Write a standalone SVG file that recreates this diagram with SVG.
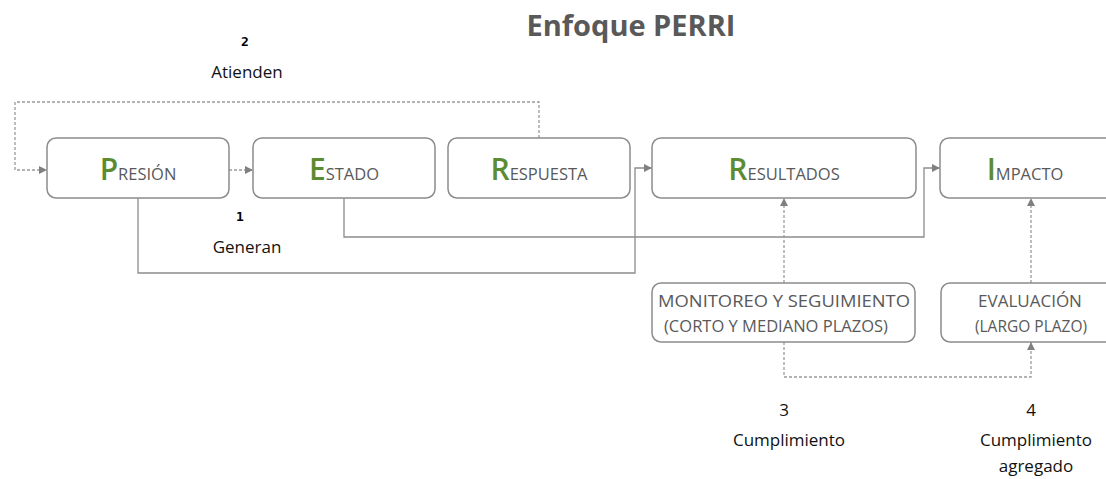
<svg xmlns="http://www.w3.org/2000/svg" width="1106" height="479" viewBox="0 0 1106 479">
<defs>
<marker id="ar" markerWidth="10" markerHeight="10" refX="9" refY="5" orient="auto" markerUnits="userSpaceOnUse">
<path d="M1,1 L9,5 L1,9 Z" fill="#808080"/>
</marker>
<style>
.box{fill:#fff;stroke:#8c8c8c;stroke-width:1.5}
.t{font-family:"Open Sans","Noto Sans",sans-serif;fill:#595959}
.g{fill:#5b8c32;font-size:30px;font-weight:600}
.s{font-size:16.5px}
.lbl{font-family:"Open Sans","Noto Sans",sans-serif;fill:#111;font-size:17px;text-anchor:middle}
.num{font-family:"DejaVu Sans Mono",monospace;font-weight:bold;fill:#000;font-size:13px;text-anchor:middle}
.sol{fill:none;stroke:#8c8c8c;stroke-width:1.3}
.dot{fill:none;stroke:#9a9a9a;stroke-width:1.3;stroke-dasharray:3,2}
.sub{font-family:"Open Sans","Noto Sans",sans-serif;fill:#595959;text-anchor:middle}
</style>
</defs>
<rect width="1106" height="479" fill="#fff"/>
<text x="631" y="36" font-family="'Open Sans','Noto Sans',sans-serif" font-weight="bold" font-size="29" fill="#595959" text-anchor="middle">Enfoque PERRI</text>

<g id="connectors">
<path class="dot" d="M539,138 V102 H15 V170 H47" marker-end="url(#ar)"/>
<path class="dot" d="M229,170 H253" marker-end="url(#ar)"/>
<path class="sol" d="M138,198 V273 H635 V168 H652" marker-end="url(#ar)"/>
<path class="sol" d="M344,198 V237 H924 V168 H940" marker-end="url(#ar)"/>
<path class="dot" d="M784,283 V198" marker-end="url(#ar)"/>
<path class="dot" d="M784,342 V377 H1031 V342" marker-end="url(#ar)"/>
<path class="dot" d="M1031,283 V198" marker-end="url(#ar)"/>
</g>

<g id="presion">
<rect class="box" x="47" y="138" width="182" height="60" rx="9"/>
<text class="t" x="138" y="180" text-anchor="middle"><tspan class="g">P</tspan><tspan class="s">RESIÓN</tspan></text>
</g>
<g id="estado">
<rect class="box" x="253" y="138" width="182" height="60" rx="9"/>
<text class="t" x="344" y="180" text-anchor="middle"><tspan class="g">E</tspan><tspan class="s">STADO</tspan></text>
</g>
<g id="respuesta">
<rect class="box" x="448" y="138" width="182" height="60" rx="9"/>
<text class="t" x="539" y="180" text-anchor="middle"><tspan class="g">R</tspan><tspan class="s">ESPUESTA</tspan></text>
</g>
<g id="resultados">
<rect class="box" x="652" y="138" width="264" height="60" rx="9"/>
<text class="t" x="784" y="180" text-anchor="middle"><tspan class="g">R</tspan><tspan class="s">ESULTADOS</tspan></text>
</g>
<g id="impacto">
<rect class="box" x="940" y="138" width="180" height="60" rx="9"/>
<text class="t" x="1025" y="180" text-anchor="middle"><tspan class="g">I</tspan><tspan class="s">MPACTO</tspan></text>
</g>
<g id="monitoreo">
<rect class="box" x="652" y="283" width="263" height="59" rx="9"/>
<text class="sub" x="784" y="307" font-size="17" textLength="252" lengthAdjust="spacingAndGlyphs">MONITOREO Y SEGUIMIENTO</text>
<text class="sub" x="776" y="332" font-size="15.5" textLength="224" lengthAdjust="spacingAndGlyphs">(CORTO Y MEDIANO PLAZOS)</text>
</g>
<g id="evaluacion">
<rect class="box" x="941" y="283" width="180" height="59" rx="9"/>
<text class="sub" x="1030" y="307" font-size="17">EVALUACIÓN</text>
<text class="sub" x="1031" y="332" font-size="15.5">(LARGO PLAZO)</text>
</g>

<g id="labels">
<text class="num" x="245" y="46">2</text>
<text class="lbl" x="247" y="78">Atienden</text>
<text class="num" x="240" y="221">1</text>
<text class="lbl" x="247" y="253">Generan</text>
<text class="lbl" x="784" y="416">3</text>
<text class="lbl" x="789" y="446">Cumplimiento</text>
<text class="lbl" x="1031" y="416">4</text>
<text class="lbl" x="1036" y="446">Cumplimiento</text>
<text class="lbl" x="1036" y="472">agregado</text>
</g>
</svg>
